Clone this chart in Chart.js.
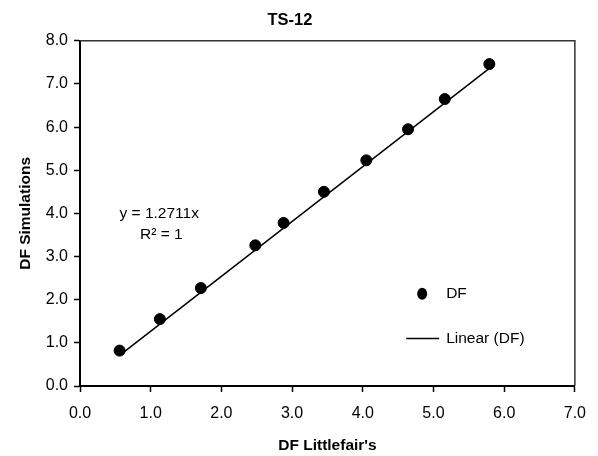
<!DOCTYPE html>
<html>
<head>
<meta charset="utf-8">
<script src="https://cdn.jsdelivr.net/npm/chart.js@4/dist/chart.umd.min.js"></script>
<style>
  html, body { margin: 0; padding: 0; background: #fff; }
  #wrap { width: 598px; height: 456px; }
</style>
</head>
<body>
<div id="wrap"><canvas id="dfChart" width="598" height="456"></canvas></div>
<script>
/* global Chart */

const dfLittlefair = [0.56, 1.13, 1.71, 2.48, 2.88, 3.45, 4.05, 4.64, 5.16, 5.79]
const dfSimulations = [0.82, 1.55, 2.27, 3.26, 3.78, 4.50, 5.23, 5.95, 6.65, 7.46]
const trendX = [0.56, 5.79]
const trendY = [0.71, 7.36]
const equationLines = ['y = 1.2711x', 'R² = 1']
const legendLabels = ['DF', 'Linear (DF)']

const FONT = "'Liberation Sans', Arial, sans-serif"

const puntos = dfLittlefair.map((x, i) => ({ x, y: dfSimulations[i] }))
const tendencia = trendX.map((x, i) => ({ x, y: trendY[i] }))

// marco superior y derecho del area de trazado
const marcoPlugin = {
  id: 'marco',
  beforeDatasetsDraw (chart) {
    const { ctx, chartArea } = chart
    ctx.save()
    ctx.strokeStyle = '#333'
    ctx.lineWidth = 1.5
    ctx.beginPath()
    ctx.moveTo(chartArea.left, chartArea.top)
    ctx.lineTo(chartArea.right, chartArea.top)
    ctx.lineTo(chartArea.right, chartArea.bottom)
    ctx.stroke()
    ctx.restore()
  }
}

// ecuacion de la tendencia y leyenda dentro del grafico
const textosPlugin = {
  id: 'textos',
  afterDraw (chart) {
    const { ctx } = chart
    const xs = chart.scales.x
    const ys = chart.scales.y
    ctx.save()
    ctx.fillStyle = '#000'
    ctx.font = `15.5px ${FONT}`
    ctx.textAlign = 'center'
    ctx.textBaseline = 'middle'
    ctx.fillText(equationLines[0], xs.getPixelForValue(1.12), ys.getPixelForValue(4.0))
    ctx.fillText(equationLines[1], xs.getPixelForValue(1.15), ys.getPixelForValue(3.5))

    // leyenda
    const lx = xs.getPixelForValue(4.84)
    const ly1 = ys.getPixelForValue(2.14)
    const ly2 = ys.getPixelForValue(1.1)
    ctx.beginPath()
    ctx.ellipse(lx, ly1, 5, 6, 0, 0, Math.PI * 2)
    ctx.fill()
    ctx.textAlign = 'left'
    ctx.fillText(legendLabels[0], lx + 24, ly1)
    ctx.strokeStyle = '#000'
    ctx.lineWidth = 1.5
    ctx.beginPath()
    ctx.moveTo(lx - 16, ly2)
    ctx.lineTo(lx + 17, ly2)
    ctx.stroke()
    ctx.fillText(legendLabels[1], lx + 24, ly2)
    ctx.restore()
  }
}

const ctxDf = document.getElementById('dfChart').getContext('2d')

const chartDf = new Chart(ctxDf, {
  type: 'scatter',
  data: {
    datasets: [
      {
        label: 'DF',
        data: puntos,
        backgroundColor: '#000',
        borderColor: '#000',
        pointRadius: 5.5,
        pointHoverRadius: 5.5,
        order: 1
      },
      {
        label: 'Linear (DF)',
        type: 'line',
        data: tendencia,
        borderColor: '#000',
        borderWidth: 1.5,
        pointRadius: 0,
        fill: false,
        order: 2
      }
    ]
  },
  options: {
    responsive: false,
    animation: false,
    layout: { padding: { left: 0, right: 18, top: 0, bottom: 0 } },
    plugins: {
      legend: { display: false },
      tooltip: { enabled: false },
      title: {
        display: true,
        text: 'TS-12',
        color: '#000',
        font: { family: FONT, size: 16.5, weight: 'bold' },
        padding: { top: 11, bottom: 10 }
      }
    },
    scales: {
      x: {
        type: 'linear',
        min: 0,
        max: 7,
        ticks: {
          stepSize: 1,
          color: '#000',
          padding: 12,
          font: { family: FONT, size: 16 },
          callback: (v) => Number(v).toFixed(1)
        },
        grid: { drawOnChartArea: false, color: '#000', tickLength: 6, tickWidth: 1.5 },
        border: { color: '#000', width: 2 },
        title: {
          display: true,
          text: "DF Littlefair's",
          color: '#000',
          font: { family: FONT, size: 15.5, weight: 'bold' },
          padding: { top: 2, bottom: 1 }
        },
        afterFit (scale) { scale.height = 70 }
      },
      y: {
        type: 'linear',
        min: 0,
        max: 8,
        ticks: {
          stepSize: 1,
          color: '#000',
          padding: 6,
          font: { family: FONT, size: 16 },
          callback: (v) => Number(v).toFixed(1)
        },
        grid: { drawOnChartArea: false, color: '#000', tickLength: 6, tickWidth: 1.5 },
        border: { color: '#000', width: 2 },
        title: {
          display: true,
          text: 'DF Simulations',
          color: '#000',
          font: { family: FONT, size: 15.5, weight: 'bold' },
          padding: { top: 16, bottom: 4 }
        },
        afterFit (scale) { scale.width = 80 }
      }
    }
  },
  plugins: [marcoPlugin, textosPlugin]
})
</script>
</body>
</html>
